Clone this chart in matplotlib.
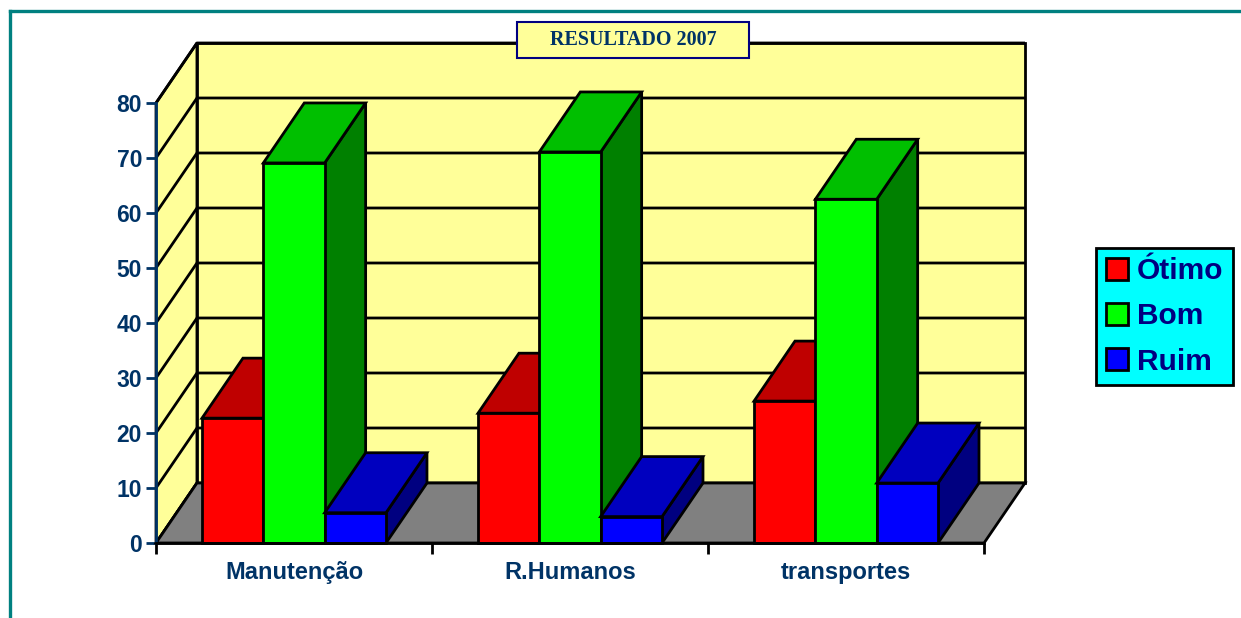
import matplotlib.pyplot as plt
from matplotlib.patches import Polygon, Rectangle, Patch
from matplotlib.lines import Line2D

# data
categories = ['Manutenção', 'R.Humanos', 'transportes']
series = ['Ótimo', 'Bom', 'Ruim']
otimo = [22.7, 23.6, 25.8]
bom = [69.1, 71.1, 62.5]
ruim = [5.5, 4.8, 10.9]
y_ticks = [0, 10, 20, 30, 40, 50, 60, 70, 80]

values = [otimo, bom, ruim]
front_colors = ['#FF0000', '#00FF00', '#0000FF']
top_colors = ['#BF0000', '#00BF00', '#0000BF']
side_colors = ['#800000', '#008000', '#000080']
text_blue = '#003366'
LW = 2.0

W, H = 1241, 618
fig = plt.figure(figsize=(W / 100, H / 100), dpi=100)

# plot area: front plane 0..3 x 0..80, plus oblique depth
left, right, bottom, top = 156, 1025, 543, 43
ax = fig.add_axes([left / W, 1 - bottom / H, (right - left) / W, (bottom - top) / H])
n = len(categories)
DX = 41 / ((985 - 156) / n)   # depth shift in category units
DY = 60 / 5.5                 # depth shift in value units
ax.set_xlim(0, n + DX)
ax.set_ylim(0, 80 + DY)
ax.set_facecolor('none')

edge = dict(edgecolor='black', linewidth=LW, joinstyle='miter', clip_on=False)

# walls and floor
ax.add_patch(Polygon([(0, 0), (DX, DY), (DX, 80 + DY), (0, 80)], facecolor='#FFFF99', **edge, zorder=1))
ax.add_patch(Rectangle((DX, DY), n, 80, facecolor='#FFFF99', **edge, zorder=1))
for v in y_ticks:
    ax.plot([0, DX, n + DX], [v, v + DY, v + DY], color='black', lw=LW, zorder=2,
            clip_on=False, solid_capstyle='butt')
ax.add_patch(Polygon([(0, 0), (n, 0), (n + DX, DY), (DX, DY)], facecolor='#808080', **edge, zorder=3))

# 3d bars
w = 1 / 4.5
z = 4
for i in range(n):
    for j in range(len(series)):
        x0 = i + 0.75 * w + j * w
        x1 = x0 + w
        h = values[j][i]
        ax.add_patch(Polygon([(x1, 0), (x1 + DX, DY), (x1 + DX, h + DY), (x1, h)],
                             facecolor=side_colors[j], **edge, zorder=z))
        ax.add_patch(Polygon([(x0, h), (x1, h), (x1 + DX, h + DY), (x0 + DX, h + DY)],
                             facecolor=top_colors[j], **edge, zorder=z))
        ax.add_patch(Rectangle((x0, 0), w, h, facecolor=front_colors[j], **edge, zorder=z))
        z += 1

# axes
for s in ['top', 'right']:
    ax.spines[s].set_visible(False)
ax.spines['left'].set_bounds(0, 80)
ax.spines['left'].set_color(text_blue)
ax.spines['left'].set_linewidth(LW)
ax.spines['bottom'].set_bounds(0, n)
ax.spines['bottom'].set_linewidth(LW)
ax.spines['left'].set_zorder(30)
ax.spines['bottom'].set_zorder(30)

ax.set_yticks(y_ticks)
ax.set_yticklabels([str(v) for v in y_ticks])
ax.tick_params(axis='y', length=7, width=LW, color=text_blue, pad=3,
               labelsize=16.5, labelcolor=text_blue)
ax.set_xticks(range(n + 1))
ax.set_xticklabels([''] * (n + 1))
ax.tick_params(axis='x', which='major', length=8, width=LW, color='black')
ax.set_xticks([i + 0.5 for i in range(n)], minor=True)
ax.set_xticklabels(categories, minor=True)
ax.tick_params(axis='x', which='minor', length=0, pad=13, labelsize=17, labelcolor=text_blue)
for lab in ax.get_yticklabels() + ax.get_xticklabels(minor=True):
    lab.set_fontweight('bold')
    lab.set_family('Liberation Sans')

# title box
fig.patches.append(Rectangle((517 / W, 1 - 58 / H), 232 / W, 36 / H, transform=fig.transFigure,
                             facecolor='#FFFF99', edgecolor='#000080', linewidth=1.5, zorder=40))
fig.text(633 / W, 1 - 40 / H, 'RESULTADO 2007', ha='center', va='center', fontsize=14.5,
         fontweight='bold', family='Liberation Serif', color=text_blue, zorder=41)

# legend
handles = [Patch(facecolor=c, edgecolor='black', linewidth=LW) for c in front_colors]
leg = fig.legend(handles, series, loc='center', bbox_to_anchor=(1164.5 / W, 1 - 316.5 / H),
                 frameon=True, fancybox=False, facecolor='#00FFFF', edgecolor='black',
                 framealpha=1, handlelength=0.75, handleheight=0.75, handletextpad=0.28,
                 labelspacing=0.58, borderpad=0.32,
                 prop={'family': 'Liberation Sans', 'weight': 'bold', 'size': 21.5})
leg.get_frame().set_linewidth(LW)
for t in leg.get_texts():
    t.set_color('#000080')

# teal page border (top and left)
fig.add_artist(Line2D([10 / W, 1], [1 - 11 / H, 1 - 11 / H], transform=fig.transFigure,
                      color='#008080', lw=2.4))
fig.add_artist(Line2D([10 / W, 10 / W], [0, 1 - 11 / H], transform=fig.transFigure,
                      color='#008080', lw=2.4))

fig.savefig('out.png', dpi=100)
